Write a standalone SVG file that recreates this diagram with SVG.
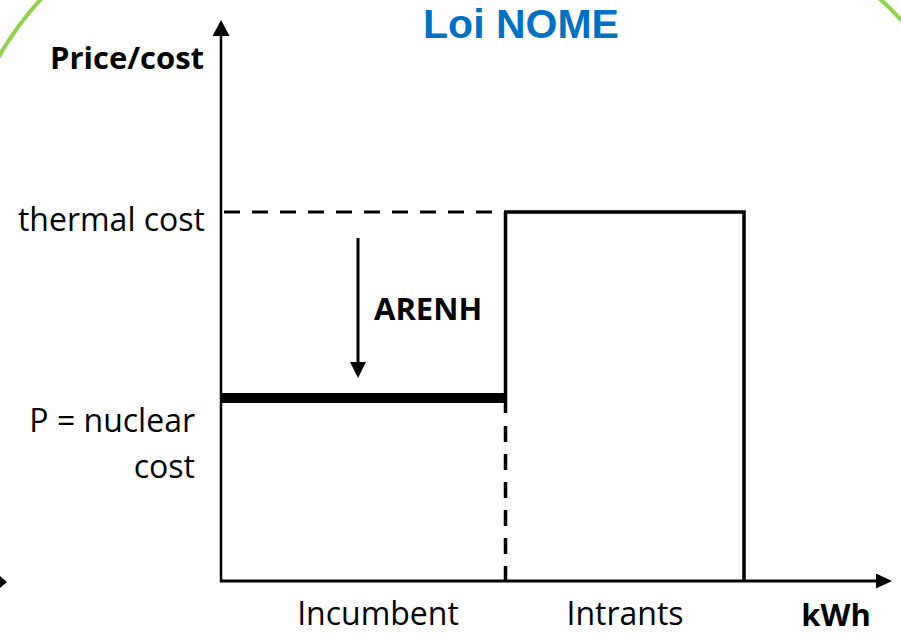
<svg xmlns="http://www.w3.org/2000/svg" width="901" height="634" viewBox="0 0 901 634">
<style>
.lbl{font-family:"Open Sans","Noto Sans","Liberation Sans",sans-serif;font-size:32px;fill:#000}
.b{font-weight:bold;font-size:31px}
.title{font-family:"Liberation Sans",Arial,sans-serif;font-weight:bold;font-size:41px;fill:#0070C0}
.ln{stroke:#000;fill:none}
.dash{stroke-dasharray:16 12}
.green{stroke:#92D050;stroke-width:4;fill:none}
</style>
<rect width="901" height="634" fill="#fff"/>
<g id="frame">
<path class="green" d="M42,-2 A320,320 0 0 0 -2,58"/>
<path class="green" d="M879,-2 A320,320 0 0 1 903,22"/>
</g>
<g id="axes">
<line class="ln" x1="221" y1="582" x2="221" y2="34" stroke-width="2.5"/>
<polygon points="221,20 212.5,36 229.5,36" fill="#000"/>
<line class="ln" x1="220" y1="581" x2="878" y2="581" stroke-width="3"/>
<polygon points="892,581 876,573.5 876,588.5" fill="#000"/>
<polygon points="0,576 7,582 0,588" fill="#000"/>
</g>
<g id="connectors">
<line class="ln dash" x1="224" y1="212" x2="505" y2="212" stroke-width="3"/>
<line class="ln" x1="505.5" y1="212" x2="505.5" y2="413" stroke-width="3.5"/>
<line class="ln dash" x1="505.5" y1="426" x2="505.5" y2="581" stroke-width="3.5"/>
<line class="ln" x1="358" y1="238" x2="358" y2="364" stroke-width="3"/>
<polygon points="350,362 366,362 358,378" fill="#000"/>
</g>
<g id="intrants-block">
<polyline class="ln" points="504,212 744,212 744,581" stroke-width="3.5"/>
</g>
<g id="nuclear-bar">
<line class="ln" x1="221" y1="398" x2="506" y2="398" stroke-width="10"/>
</g>
<g id="labels">
<text class="title" x="521" y="38" text-anchor="middle">Loi NOME</text>
<text class="lbl b" x="204" y="69" text-anchor="end">Price/cost</text>
<text class="lbl" x="205" y="231" text-anchor="end">thermal cost</text>
<text class="lbl" x="195" y="432" text-anchor="end">P = nuclear</text>
<text class="lbl" x="195" y="478" text-anchor="end">cost</text>
<text class="lbl b" x="374" y="320">ARENH</text>
<text class="lbl" x="378" y="625" text-anchor="middle">Incumbent</text>
<text class="lbl" x="625" y="625" text-anchor="middle">Intrants</text>
<text class="lbl b" x="836" y="626" text-anchor="middle">kWh</text>
</g>
</svg>
